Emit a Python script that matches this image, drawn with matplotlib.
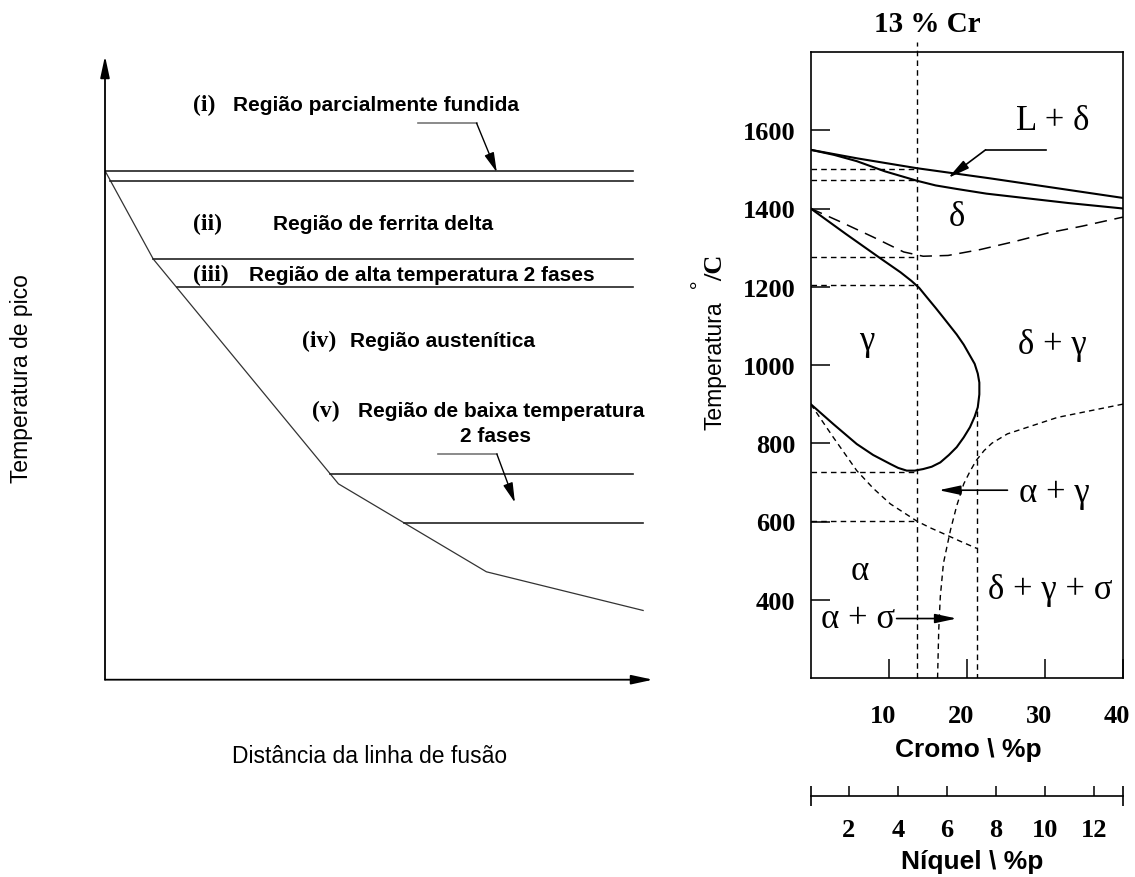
import numpy as np
import matplotlib
matplotlib.use("Agg")
import matplotlib.pyplot as plt
from matplotlib.transforms import ScaledTranslation

W, H = 1135, 878
SANS = "Liberation Sans"
SERIF = "Liberation Serif"

# ---------------- Left schematic (arbitrary units 0-100) ----------------
profile_x = [0, 8.8, 42.6, 69.6, 98.2]
profile_y = [81.6, 67.45, 31.4, 17.3, 11.1]
level_y = [81.6, 80.0, 67.45, 62.9, 33.0, 25.2]
level_end = [96.4, 96.4, 96.4, 96.4, 96.4, 98.2]
region_tags = ["(i)", "(ii)", "(iii)", "(iv)", "(v)"]
region_names = ["Região parcialmente fundida", "Região de ferrita delta",
                "Região de alta temperatura 2 fases", "Região austenítica",
                "Região de baixa temperatura"]
tag_x = [16.1, 16.1, 16.1, 35.9, 37.7]
name_x = [23.4, 30.7, 26.2, 44.7, 46.2]
label_y = [92.3, 73.1, 65.0, 54.35, 43.1]

# ---------------- Right phase diagram (Cr wt%, T in C) ----------------
cr_ticks = [10, 20, 30, 40]
t_ticks = [400, 600, 800, 1000, 1200, 1400, 1600]
ni_ticks = [2, 4, 6, 8, 10, 12]
ni_limits = [0.44, 13.18]

liq_cr = [0, 6.0, 13.6, 23.0, 40]
liq_t = [1550, 1528, 1503, 1477, 1427]
sol_cr = [0, 3.0, 5.9, 9.5, 13.6, 16.0, 18.7, 22.5, 27.3, 33.0, 40]
sol_t = [1550, 1537, 1521, 1495, 1471, 1459, 1450, 1438, 1427, 1414, 1400]
delta_cr = [0, 3.7, 8.0, 11.9, 14.4, 17.6, 21.7, 26.2, 30.5, 34.8, 38.4, 40]
delta_t = [1400, 1367, 1327, 1289, 1278, 1280, 1295, 1316, 1338, 1355, 1371, 1378]
gloop_cr = [0, 4.5, 8.9, 11.5, 12.9, 13.9, 14.8, 16.0, 17.0, 18.7, 19.6, 20.4,
            21.0, 21.4, 21.6, 21.6, 21.4, 21.0, 20.4, 19.6, 18.7, 17.7, 16.6,
            15.5, 14.4, 13.3, 12.3, 11.2, 10.2, 8.0, 5.9, 2.9, 0]
gloop_t = [1400, 1335, 1273, 1237, 1215, 1197, 1175, 1146, 1121, 1078, 1052, 1024,
           1003, 978, 955, 925, 892, 868, 841, 815, 790, 770, 751,
           740, 734, 730, 730, 737, 747, 770, 798, 849, 900]
alpha_cr = [0, 2.9, 5.9, 8.0, 10.2, 13.6, 15.3, 17.0, 19.1, 21.3]
alpha_t = [900, 815, 730, 685, 645, 601, 584, 569, 550, 531]
sigma_cr = [40, 31.6, 25.2, 23.2, 22.2, 21.2, 20.4, 19.6, 18.7, 17.9, 17.0, 16.6,
            16.4, 16.25]
sigma_t = [900, 866, 824, 800, 781, 756, 728, 696, 640, 578, 493, 408, 323, 200]
nose_cr = 21.3
nose_t = 883
cr13 = 13.6
guide_t = [1500, 1473, 1276, 1204, 726, 601]

fig = plt.figure(figsize=(W / 100, H / 100), dpi=100)


def fx(px):
    return px / W


def fy(py):
    return 1 - py / H


# ======================= LEFT PANEL =======================
axl = fig.add_axes([fx(105), fy(680.7), fx(653) - fx(105), fy(57) - fy(680.7)])
axl.set_xlim(0, 100)
axl.set_ylim(0, 100)
axl.axis("off")

arrow_kw = dict(arrowstyle="-|>,head_length=1.3,head_width=0.28", color="black",
                lw=1.3, shrinkA=0, shrinkB=0)
axl.annotate("", xy=(0, 100), xytext=(0, 0), arrowprops=arrow_kw, annotation_clip=False)
axl.annotate("", xy=(100, 0), xytext=(0, 0), arrowprops=arrow_kw, annotation_clip=False)

axl.plot(profile_x, profile_y, color="#333333", lw=0.9)
start_x = np.interp(level_y, profile_y[::-1], profile_x[::-1])
for y0, x0, x1 in zip(level_y, start_x, level_end):
    axl.plot([x0, x1], [y0, y0], color="#222222", lw=1.2)

for tag, name, tx, nx, ly in zip(region_tags, region_names, tag_x, name_x, label_y):
    axl.text(tx, ly, tag, family=SERIF, fontweight="bold", fontsize=17,
             ha="left", va="center")
    axl.text(nx, ly, name, family=SANS, fontweight="bold", fontsize=15,
             ha="left", va="center")
axl.text(71.2, 39.1, "2 fases", family=SANS, fontweight="bold", fontsize=15,
         ha="center", va="center")

lead_kw = dict(arrowstyle="-|>,head_length=1.2,head_width=0.3", color="black",
               lw=1.0, shrinkA=0, shrinkB=0)
axl.plot([57.2, 67.8], [89.25, 89.25], color="#777777", lw=1.2)
axl.annotate("", xy=(71.5, 81.35), xytext=(67.8, 89.25), arrowprops=lead_kw)
axl.plot([60.8, 71.5], [36.2, 36.2], color="#777777", lw=1.2)
axl.annotate("", xy=(74.8, 28.4), xytext=(71.5, 36.2), arrowprops=lead_kw)

fig.text(fx(22), fy(379), "Temperatura de pico", rotation=90, family=SANS,
         fontsize=16.5, ha="center", va="center")
fig.text(fx(370), fy(757), "Distância da linha de fusão", family=SANS,
         fontsize=16.5, ha="center", va="center")

# ======================= RIGHT PANEL =======================
L, R, T, B = 810.7, 1123, 53, 679
ax = fig.add_axes([fx(L), fy(B), fx(R) - fx(L), fy(T) - fy(B)])
ax.set_xlim(0, 40)
ax.set_ylim(200, 1800)
for s in ax.spines.values():
    s.set_linewidth(1.2)
ax.set_xticks(cr_ticks)
ax.set_yticks(t_ticks)
ax.tick_params(axis="both", direction="in", length=13.5, width=1.1)
ax.tick_params(axis="x", pad=19, labelsize=19)
ax.tick_params(axis="y", pad=11, labelsize=19)
off = ScaledTranslation(-6 / 100, 0, fig.dpi_scale_trans)
for lbl in ax.get_xticklabels():
    lbl.set_fontfamily(SERIF)
    lbl.set_fontweight("bold")
    lbl.set_transform(lbl.get_transform() + off)
for lbl in ax.get_yticklabels():
    lbl.set_fontfamily(SERIF)
    lbl.set_fontweight("bold")

solid = dict(color="black", lw=1.5, solid_joinstyle="round")
ax.plot(liq_cr, liq_t, **solid)
ax.plot(sol_cr, sol_t, **solid)
ax.plot(gloop_cr, gloop_t, **solid)

dash_long = dict(color="black", lw=1.1, linestyle=(0, (8, 5)))
dash_short = dict(color="black", lw=1.0, linestyle=(0, (4, 3)))
ax.plot(delta_cr, delta_t, **dash_long)
ax.plot(alpha_cr, alpha_t, **dash_short)
ax.plot(sigma_cr, sigma_t, **dash_short)
ax.plot([nose_cr, nose_cr], [nose_t, 200], **dash_short)
ax.plot([cr13, cr13], [200, 1826], clip_on=False, **dash_short)
for g in guide_t:
    ax.plot([0, cr13], [g, g], **dash_short)

gk = dict(family=SERIF, fontsize=25, ha="center", va="center")
ax.text(31.0, 1626, "L + δ", **gk)
ax.text(18.7, 1380, "δ", **gk)
ax.text(7.2, 1062, "γ", **gk)
ax.text(30.9, 1053, "δ + γ", **gk)
ax.text(31.2, 675, "α + γ", **gk)
ax.text(6.3, 476, "α", **gk)
ax.text(30.7, 425, "δ + γ + σ", **gk)
ax.text(6.1, 352, "α + σ", **gk)

pa = dict(arrowstyle="-|>,head_length=1.3,head_width=0.28", color="black",
          lw=1.2, shrinkA=0, shrinkB=0)
ax.plot([30.1, 22.4], [1550, 1550], color="black", lw=1.2)
ax.annotate("", xy=(17.6, 1478), xytext=(22.4, 1550), arrowprops=pa)
ax.annotate("", xy=(16.4, 680), xytext=(25.2, 680), arrowprops=pa)
ax.annotate("", xy=(18.7, 352), xytext=(11.0, 352), arrowprops=pa)

fig.text(fx(927), fy(25), "13 % Cr", family=SERIF, fontweight="bold",
         fontsize=21, ha="center", va="center")
fig.text(fx(715), fy(366), "Temperatura", rotation=90, family=SANS,
         fontsize=16.5, ha="center", va="center")
fig.text(fx(716), fy(268), "/C", rotation=90, family=SERIF, fontweight="bold",
         fontsize=19, ha="center", va="center")
fig.text(fx(700), fy(284), "°", rotation=90, family=SERIF, fontweight="bold",
         fontsize=15, ha="center", va="center")
fig.text(fx(968), fy(750), "Cromo \\ %p", family=SANS, fontweight="bold",
         fontsize=19, ha="center", va="center")

# Nickel scale
axn = fig.add_axes([fx(L), fy(797), fx(R) - fx(L), 0.04])
axn.set_xlim(*ni_limits)
axn.set_ylim(0, 1)
axn.patch.set_visible(False)
for s in ["top", "left", "right"]:
    axn.spines[s].set_visible(False)
axn.spines["bottom"].set_linewidth(1.2)
axn.set_yticks([])
axn.set_xticks(ni_ticks)
axn.set_xticks(ni_limits, minor=True)
axn.tick_params(axis="x", which="major", direction="in", length=7.5, width=1.1,
                pad=16, labelsize=19)
axn.tick_params(axis="x", which="minor", direction="inout", length=15, width=1.2)
for lbl in axn.get_xticklabels():
    lbl.set_fontfamily(SERIF)
    lbl.set_fontweight("bold")
fig.text(fx(972), fy(862), "Níquel \\ %p", family=SANS, fontweight="bold",
         fontsize=19, ha="center", va="center")

fig.savefig("out.png", dpi=100)
